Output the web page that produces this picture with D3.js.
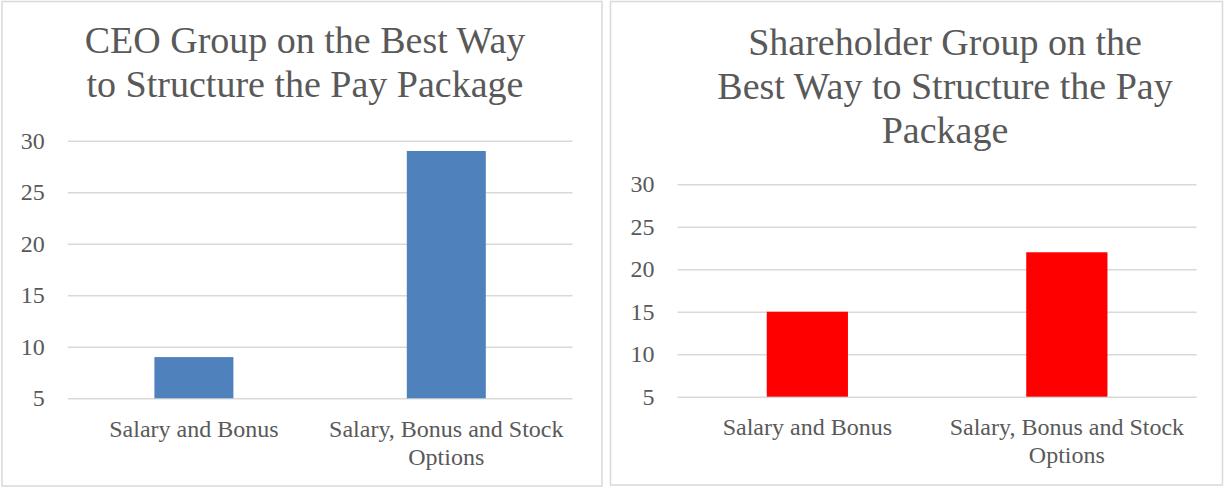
<!DOCTYPE html>
<html>
<head>
<meta charset="utf-8">
<script src="https://cdn.jsdelivr.net/npm/d3@7"></script>
<style>
  body { margin: 0; background: #fff; }
  svg text { font-family: "Liberation Serif", "DejaVu Serif", serif; fill: #595959; }
</style>
</head>
<body>
<div id="charts"></div>
<script>
// Chart data
const categories = ["Salary and Bonus", "Salary, Bonus and Stock Options"];
const categoryLines = [["Salary and Bonus"], ["Salary, Bonus and Stock", "Options"]];
const ceoValues = [9, 29];
const shareholderValues = [15, 22];
const yTicks = [5, 10, 15, 20, 25, 30];
const ceoTitle = ["CEO Group on the Best Way", "to Structure the Pay Package"];
const shareholderTitle = ["Shareholder Group on the", "Best Way to Structure the Pay", "Package"];

var svg = d3.select("#charts")
  .append("svg")
  .attr("width", 1225)
  .attr("height", 489);

function drawChart(opt) {
  var g = svg.append("g");

  // chart border
  g.append("rect")
    .attr("x", opt.box.x)
    .attr("y", opt.box.y)
    .attr("width", opt.box.w)
    .attr("height", opt.box.h)
    .attr("fill", "#fff")
    .attr("stroke", "#d9d9d9")
    .attr("stroke-width", 1.5);

  // title
  var title = g.append("text")
    .attr("text-anchor", "middle")
    .style("font-size", "38px");
  title.selectAll("tspan")
    .data(opt.title)
    .enter()
    .append("tspan")
    .attr("x", opt.titleX)
    .attr("y", function(d, i) { return opt.titleY + i * 44; })
    .text(function(d) { return d; });

  var x = d3.scaleBand()
    .domain(categories)
    .range([opt.plot.left, opt.plot.right])
    .paddingInner(0.687)
    .paddingOuter(0.3435);

  var y = d3.scaleLinear()
    .domain([5, 30])
    .range([opt.plot.bottom, opt.plot.top]);

  // y axis with gridlines
  var yAxis = g.append("g")
    .attr("transform", "translate(" + opt.plot.left + ",0)")
    .call(d3.axisLeft(y)
      .tickValues(yTicks)
      .tickSize(-(opt.plot.right - opt.plot.left))
      .tickPadding(23));
  yAxis.select(".domain").remove();
  yAxis.selectAll(".tick line")
    .attr("stroke", "#d9d9d9")
    .attr("stroke-width", 1.5);
  yAxis.selectAll(".tick text")
    .style("font-size", "24px")
    .attr("fill", "#595959");

  // bars
  g.selectAll(".bar")
    .data(opt.values)
    .enter()
    .append("rect")
    .attr("class", "bar")
    .attr("x", function(d, i) { return x(categories[i]); })
    .attr("width", x.bandwidth())
    .attr("y", function(d) { return y(d); })
    .attr("height", function(d) { return y(5) - y(d); })
    .attr("fill", opt.color);

  // category labels
  var labels = g.selectAll(".cat")
    .data(categories)
    .enter()
    .append("text")
    .attr("class", "cat")
    .attr("text-anchor", "middle")
    .style("font-size", "24px");
  labels.each(function(d, i) {
    var cx = x(d) + x.bandwidth() / 2;
    d3.select(this).selectAll("tspan")
      .data(categoryLines[i])
      .enter()
      .append("tspan")
      .attr("x", cx)
      .attr("y", function(t, j) { return opt.labelY + j * 27.5; })
      .text(function(t) { return t; });
  });
}

drawChart({
  box: {x: 2, y: 1.5, w: 600, h: 484.5},
  plot: {left: 67.7, right: 572.5, top: 140.7, bottom: 398.3},
  title: ceoTitle,
  titleX: 305,
  titleY: 53,
  labelY: 437,
  values: ceoValues,
  color: "#4f81bd"
});

drawChart({
  box: {x: 610.5, y: 1.5, w: 612, h: 483.5},
  plot: {left: 677.6, right: 1196.6, top: 184.3, bottom: 396.7},
  title: shareholderTitle,
  titleX: 945,
  titleY: 54.5,
  labelY: 435,
  values: shareholderValues,
  color: "#ff0000"
});
</script>
</body>
</html>
